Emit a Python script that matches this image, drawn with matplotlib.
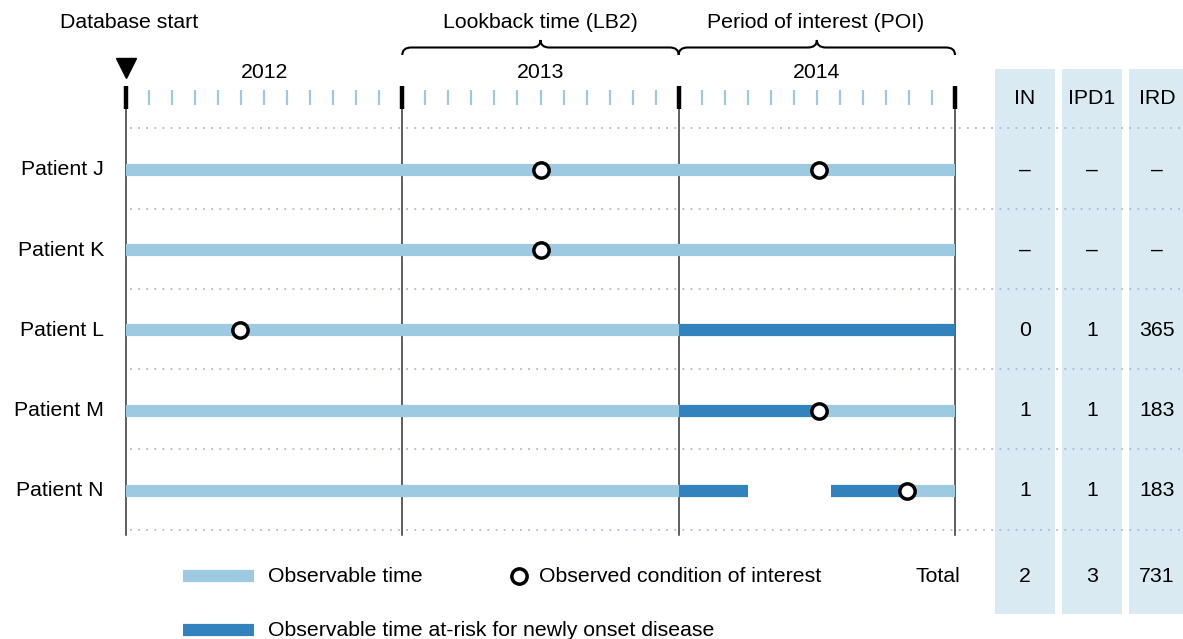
import matplotlib
matplotlib.use("Agg")
import matplotlib.pyplot as plt
from matplotlib.path import Path
from matplotlib.patches import PathPatch, Rectangle
from matplotlib.transforms import Affine2D, blended_transform_factory

plt.rcParams['font.family'] = ['Liberation Sans', 'DejaVu Sans']

# ---------------- data ----------------
patients = ["Patient J", "Patient K", "Patient L", "Patient M", "Patient N"]
years = ["2012", "2013", "2014"]
# months counted from Jan 2012
observable = [[(0, 36)], [(0, 36)], [(0, 24)], [(0, 24), (30, 36)], [(0, 24), (33.9, 36)]]
at_risk = [[], [], [(24, 36)], [(24, 30)], [(24, 27), (30.6, 33.9)]]
events = [[18, 30.1], [18], [4.95], [30.1], [33.9]]
headers = ["IN", "IPD1", "IRD"]
IN = ["–", "–", "0", "1", "1"]
IPD1 = ["–", "–", "1", "1", "1"]
IRD = ["–", "–", "365", "183", "183"]
totals = ["2", "3", "731"]

LIGHT = "#9ecae1"
DARK = "#3182bd"
TABLE_BG = "#daeaf3"
DOT = "#b4b4d8"
FS = 15.3

W, H = 1183, 639
fig = plt.figure(figsize=(W / 100, H / 100), dpi=100)
ax = fig.add_axes([0, 0, 1, 1])
ax.axis("off")

# layout: month 0 -> px 126, month 36 -> px 955 ; row 0 -> px 170, spacing 80.25
X0, PXM = 126.0, (955.0 - 126.0) / 36.0
Y0, PXR = 170.0, 80.25
ax.set_xlim(-X0 / PXM, (W - X0) / PXM)
ax.set_ylim((H - Y0) / PXR, -Y0 / PXR)

pix = Affine2D().scale(1.0 / W, -1.0 / H).translate(0, 1) + fig.transFigure
xdata_ypix = blended_transform_factory(ax.transData, pix)
xpix_ydata = blended_transform_factory(pix, ax.transData)

# table backgrounds
col_left = [995, 1062, 1129]
col_w = 60
col_center = [1025, 1092, 1157]
for xl in col_left:
    ax.add_patch(Rectangle((xl, 69), col_w, 545, transform=pix,
                           facecolor=TABLE_BG, edgecolor="none", zorder=0))

# dotted separators
for k in range(len(patients) + 1):
    ax.plot([130, W], [k - 0.52, k - 0.52], transform=xpix_ydata, color=DOT,
            lw=1.3, linestyle=(0, (1, 3.5)), zorder=1)

# year boundary lines and ticks
for yb in range(0, 37, 12):
    ax.plot([yb, yb], [109, 535], transform=xdata_ypix, color="#333333", lw=1.1, zorder=2)
    ax.plot([yb, yb], [86, 109], transform=xdata_ypix, color="black", lw=3.2,
            solid_capstyle="butt", zorder=3)
for m in range(36):
    if m % 12:
        ax.plot([m, m], [90, 105], transform=xdata_ypix, color=LIGHT, lw=1.6,
                solid_capstyle="butt", zorder=3)
for i, yr in enumerate(years):
    ax.text(6 + 12 * i, 73, yr, transform=xdata_ypix, ha="center", va="center", fontsize=FS)

# database start marker
ax.plot([0], [68], transform=xdata_ypix, marker="v", ms=14.5, color="black", zorder=4)

# top labels
ax.text(129, 22, "Database start", transform=pix, ha="center", va="center", fontsize=FS)
ax.text(540, 22, "Lookback time (LB2)", transform=pix, ha="center", va="center", fontsize=FS)
ax.text(816, 22, "Period of interest (POI)", transform=pix, ha="center", va="center", fontsize=FS)


def brace(x0, x1, yb=55, h=15, r=9):
    xm = (x0 + x1) / 2.0
    ym = yb - h / 2.0
    yt = yb - h
    verts = [(x0, yb), (x0, ym), (x0 + r, ym), (xm - r, ym), (xm, ym), (xm, yt),
             (xm, ym), (xm + r, ym), (x1 - r, ym), (x1, ym), (x1, yb)]
    codes = [Path.MOVETO, Path.CURVE3, Path.CURVE3, Path.LINETO, Path.CURVE3, Path.CURVE3,
             Path.CURVE3, Path.CURVE3, Path.LINETO, Path.CURVE3, Path.CURVE3]
    ax.add_patch(PathPatch(Path(verts, codes), transform=pix, facecolor="none",
                           edgecolor="black", lw=1.5, zorder=4))


brace(X0 + 12 * PXM, X0 + 24 * PXM)
brace(X0 + 24 * PXM, X0 + 36 * PXM)

# patient rows
BAR_LW = 8.8
for i, name in enumerate(patients):
    ax.text(104, i, name, transform=xpix_ydata, ha="right", va="center", fontsize=FS)
    for a, b in observable[i]:
        ax.plot([a, b], [i, i], color=LIGHT, lw=BAR_LW, solid_capstyle="butt", zorder=3)
    for a, b in at_risk[i]:
        ax.plot([a, b], [i, i], color=DARK, lw=BAR_LW, solid_capstyle="butt", zorder=3)
    ax.plot(events[i], [i] * len(events[i]), "o", ms=11, mfc="white", mec="black",
            mew=2.5, zorder=5, linestyle="none")
    for c, vals in zip(col_center, [IN, IPD1, IRD]):
        ax.text(c, i, vals[i], transform=xpix_ydata, ha="center", va="center", fontsize=FS)

# table headers and totals
for c, h in zip(col_center, headers):
    ax.text(c, 98, h, transform=pix, ha="center", va="center", fontsize=FS)
for c, t in zip(col_center, totals):
    ax.text(c, 576, t, transform=pix, ha="center", va="center", fontsize=FS)
ax.text(938, 576, "Total", transform=pix, ha="center", va="center", fontsize=FS)

# legend
ax.plot([183, 254], [576, 576], transform=pix, color=LIGHT, lw=BAR_LW, solid_capstyle="butt")
ax.text(268, 576, "Observable time", transform=pix, ha="left", va="center", fontsize=FS)
ax.plot([519], [576], transform=pix, marker="o", ms=11, mfc="white", mec="black", mew=2.5)
ax.text(539, 576, "Observed condition of interest", transform=pix, ha="left", va="center", fontsize=FS)
ax.plot([183, 254], [630, 630], transform=pix, color=DARK, lw=BAR_LW, solid_capstyle="butt")
ax.text(268, 630, "Observable time at-risk for newly onset disease", transform=pix,
        ha="left", va="center", fontsize=FS)

fig.savefig("out.png", dpi=100)
